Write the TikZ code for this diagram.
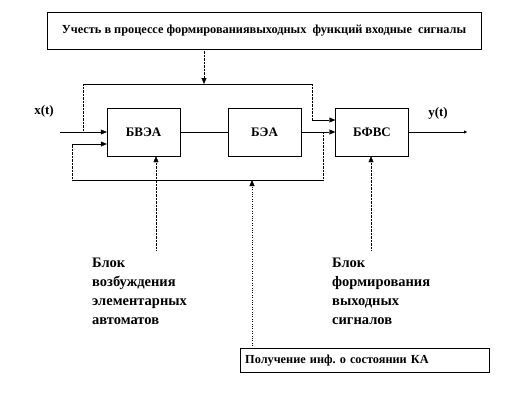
\documentclass[tikz,border=0pt]{standalone}
\usepackage{fontspec}
\setmainfont{Liberation Serif}
\usetikzlibrary{positioning, arrows.meta, calc}

\begin{document}
\frenchspacing
\begin{tikzpicture}[x=1pt, y=-1pt,
  blk/.style={draw, minimum width=73pt, minimum height=48pt, inner sep=0pt, font=\bfseries\fontsize{13}{14}\selectfont},
  note/.style={draw, inner sep=0pt, font=\bfseries\fontsize{12.3}{13}\selectfont},
  lbl/.style={anchor=north west, align=left, inner sep=0pt, font=\bfseries\fontsize{14.5}{19}\selectfont},
  sig/.style={-{Triangle[length=6pt,width=5pt]}},
  dots/.style={densely dotted}]
\useasboundingbox (0,0) rectangle (528,408);
% notes and blocks
\node[note, minimum width=434pt, minimum height=37pt] (topnote) at (264,30.5) {Учесть в процессе формированиявыходных\ \ функций входные\ \ сигналы};
\node[blk] (bvea) at (143.5,132) {БВЭА};
\node[blk] (bea) at (264.5,132) {БЭА};
\node[blk] (bfvs) at (372,132) {БФВС};
\node[note, anchor=north west, minimum width=249pt, minimum height=24pt, text width=239pt, align=left, inner xsep=5pt] (botnote) at (240,348) {Получение инф. о состоянии КА};
\node[font=\bfseries\fontsize{13}{14}\selectfont] (xlbl) at (44,111) {x(t)};
\node[font=\bfseries\fontsize{13}{14}\selectfont] (ylbl) at (438,113) {y(t)};
\node[lbl] (exclbl) at (92,258) {Блок\\возбуждения\\элементарных\\автоматов};
\node[lbl] (formlbl) at (332,258) {Блок\\формирования\\выходных\\сигналов};
% connector points
\coordinate (xin) at (60,132);
\coordinate (tapin) at (83,132);
\coordinate (topL) at (83,84);
\coordinate (notetap) at (204,84);
\coordinate (topR) at (312,84);
\coordinate (bendR) at (312,120);
\coordinate (fbR) at (323,132);
\coordinate (fbRb) at (323,180);
\coordinate (statetap) at (252,180);
\coordinate (fbLb) at (72,180);
\coordinate (fbL) at (72,144);
\coordinate (yout) at (467,132);
\coordinate (excsrc) at (156,250);
\coordinate (formsrc) at (371,250);
% signal paths
\draw[sig] (xin) -- (bvea.west);
\draw[dots] (tapin) -- (topL);
\draw (topL) -- (topR);
\draw[dots] (topR) -- (bendR);
\draw[sig] (bendR) -- (bendR -| bfvs.west);
\draw[dots, sig] (topnote.south -| notetap) -- (notetap);
\draw (bvea) -- (bea);
\draw[sig] (bea.east) -- (bfvs.west);
\draw[dots] (fbR) -- (fbRb);
\draw (fbRb) -- (fbLb);
\draw[dots] (fbLb) -- (fbL);
\draw[sig] (fbL) -- (fbL -| bvea.west);
\draw[-{Triangle[length=3pt,width=3pt]}] (bfvs.east) -- (yout);
\draw[dots, sig] (excsrc) -- (excsrc |- bvea.south);
\draw[dots, sig] (formsrc) -- (formsrc |- bfvs.south);
\draw[dotted, sig] (botnote.north -| statetap) -- (statetap);
\end{tikzpicture}
\end{document}
